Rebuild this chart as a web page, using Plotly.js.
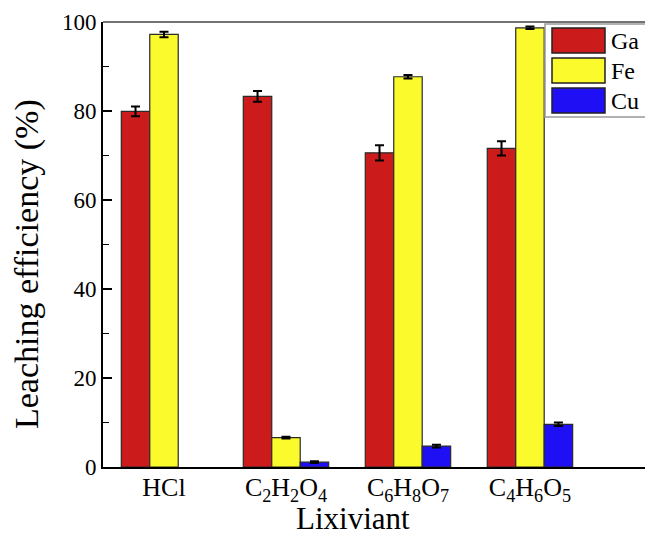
<!DOCTYPE html>
<html>
<head>
<meta charset="utf-8">
<script src="https://cdn.plot.ly/plotly-3.0.1.min.js"></script>
<style>
html,body{margin:0;padding:0;background:#fff;}
#chart{width:645px;height:538px;}
</style>
</head>
<body>
<div id="chart"></div>
<script>
// ---- data ----
const categories = ["HCl", "C2H2O4", "C6H8O7", "C4H6O5"];
const tickLabels = ["HCl", "C<sub>2</sub>H<sub>2</sub>O<sub>4</sub>", "C<sub>6</sub>H<sub>8</sub>O<sub>7</sub>", "C<sub>4</sub>H<sub>6</sub>O<sub>5</sub>"];
const seriesNames = ["Ga", "Fe", "Cu"];
const gaValues = [79.9, 83.3, 70.6, 71.6];
const gaErrors = [1.1, 1.2, 1.7, 1.6];
const feValues = [97.2, 6.6, 87.7, 98.7];
const feErrors = [0.6, 0.2, 0.4, 0.3];
const cuValues = [null, 1.1, 4.7, 9.6];
const cuErrors = [null, 0.2, 0.3, 0.4];
const seriesColors = ["#CC1B1B", "#FAFA2D", "#1E0FF5"];
const xTitle = "Lixiviant";
const yTitle = "Leaching efficiency (%)";

const values = [gaValues, feValues, cuValues];
const errors = [gaErrors, feErrors, cuErrors];
const font = "'Liberation Serif', 'Times New Roman', serif";

const traces = seriesNames.map((name, i) => ({
  type: "bar",
  name: name,
  x: categories,
  y: values[i],
  marker: {color: seriesColors[i], line: {color: "#2a2a2a", width: 1.2}},
  error_y: {type: "data", array: errors[i], visible: true, color: "#000", thickness: 2, width: 4.5},
  showlegend: false,
  hoverinfo: "skip"
}));

// plot area pixels
const L = 103, R = 645, T = 22, B = 467;
const px = v => (v - L) / (R - L);
const py = v => (B - v) / (B - T);

const shapes = [
  {type: "line", xref: "paper", yref: "paper", x0: 0, x1: 1.02, y0: 1, y1: 1, line: {color: "#444", width: 1.5}}
];
const annotations = [
  {xref: "paper", yref: "paper", x: px(353), y: py(518), xanchor: "center", yanchor: "middle",
   text: xTitle, showarrow: false, font: {family: font, size: 31, color: "#000"}},
  {xref: "paper", yref: "paper", x: px(27), y: py(264), xanchor: "center", yanchor: "middle", textangle: -90,
   text: yTitle, showarrow: false, font: {family: font, size: 34, color: "#000"}}
];
// legend box
shapes.push({type: "rect", xref: "paper", yref: "paper", x0: px(545), x1: px(660), y0: py(24), y1: py(117),
  line: {color: "#999", width: 1.5}, fillcolor: "#fff", layer: "above"});
const swTop = [28, 58, 88];
seriesNames.forEach((name, i) => {
  shapes.push({type: "rect", xref: "paper", yref: "paper", x0: px(552), x1: px(605), y0: py(swTop[i]), y1: py(swTop[i] + 25),
    fillcolor: seriesColors[i], line: {color: "#222", width: 1.5}, layer: "above"});
  annotations.push({xref: "paper", yref: "paper", x: px(609), y: py(swTop[i] + 13), xanchor: "left", yanchor: "middle",
    text: name, showarrow: false, font: {family: font, size: 24, color: "#000"}});
});

const layout = {
  width: 645, height: 538,
  margin: {l: L, r: 0, t: T, b: 538 - B},
  paper_bgcolor: "#fff", plot_bgcolor: "#fff",
  barmode: "group", bargap: 0.3, bargroupgap: 0,
  showlegend: false,
  font: {family: font, color: "#000"},
  xaxis: {
    type: "category",
    tickvals: categories, ticktext: tickLabels,
    range: [-0.5, 3.943],
    showline: true, linecolor: "#000", linewidth: 2,
    ticks: "", ticklen: 0, ticklabelstandoff: -4, showgrid: false, zeroline: false,
    tickfont: {family: font, size: 26, color: "#000"},
    automargin: false
  },
  yaxis: {
    range: [0, 100],
    tickvals: [0, 20, 40, 60, 80, 100],
    showline: true, linecolor: "#000", linewidth: 2,
    ticks: "inside", ticklen: 9, tickwidth: 1.5, tickcolor: "#000",
    minor: {dtick: 10, ticks: "inside", ticklen: 6, tickwidth: 1.5, tickcolor: "#000", showgrid: false},
    showgrid: false, zeroline: false,
    tickfont: {family: font, size: 23, color: "#000"},
    automargin: false
  },
  shapes: shapes,
  annotations: annotations
};

Plotly.newPlot("chart", traces, layout, {displayModeBar: false, staticPlot: true});
</script>
</body>
</html>
